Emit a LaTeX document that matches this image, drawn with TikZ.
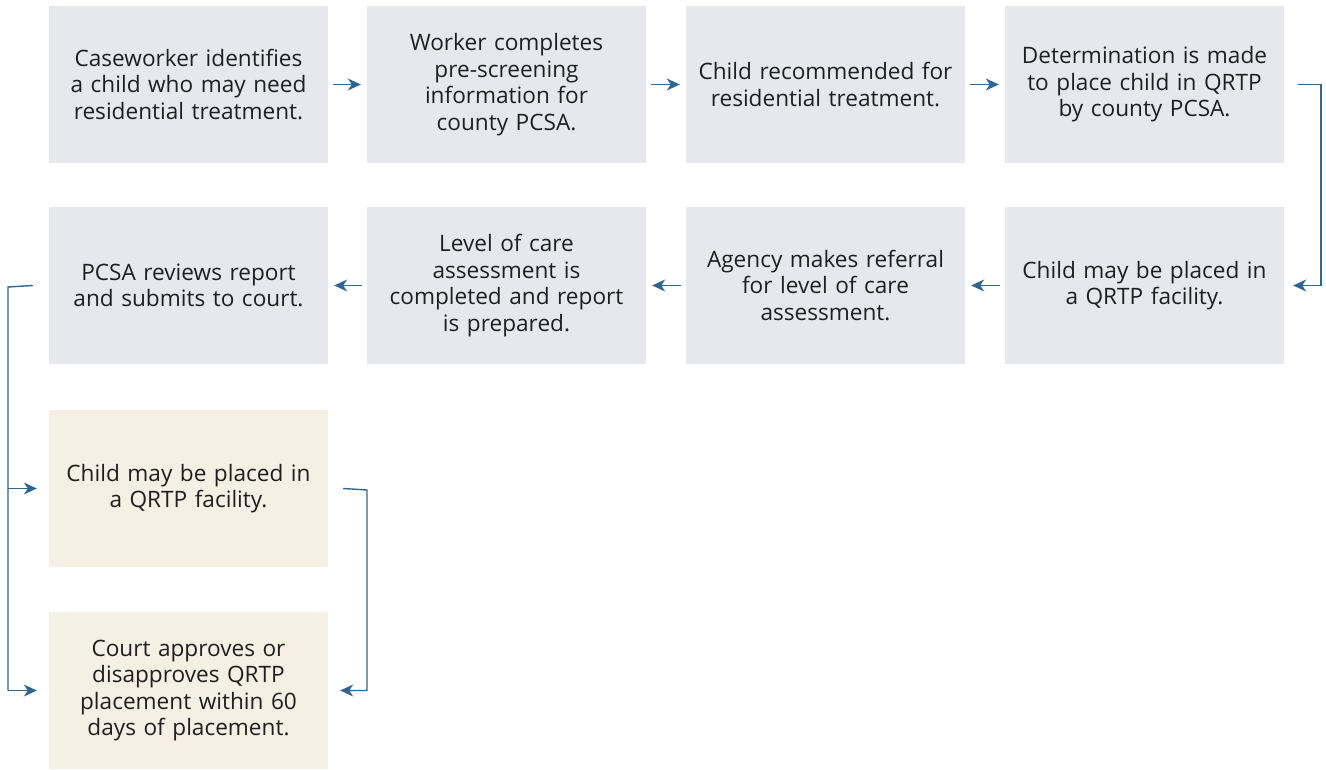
\documentclass[tikz,border=0pt]{standalone}
\usepackage{fontspec}
\setmainfont{Open Sans}
\usetikzlibrary{arrows.meta}
\definecolor{boxgray}{HTML}{E6E8EE}
\definecolor{boxbeige}{HTML}{F6EFE4}
\definecolor{arrowblue}{HTML}{2F6592}
\begin{document}
\begin{tikzpicture}[x=1pt,y=-1pt,
  stepbox/.style={fill=boxgray,draw=none,minimum width=279pt,minimum height=157pt,
    text width=275pt,align=center,inner sep=0pt,font=\fontsize{22.6}{26.6}\selectfont,text=black!88},
  beigebox/.style={stepbox,fill=boxbeige},
  conn/.style={draw=arrowblue,line width=1.4pt,-{Stealth[length=13pt,width=12pt,inset=4pt]}},
  bracket/.style={draw=arrowblue,line width=1.4pt}]
\useasboundingbox (0,0) rectangle (1326,770);
\node[stepbox] (a1) at (188.5,84.5) {Caseworker identifies\\a child who may need\\residential treatment.};
\node[stepbox] (a2) at (506.5,84.5) {Worker completes\\pre-screening\\information for\\county PCSA.};
\node[stepbox] (a3) at (825.5,84.5) {Child recommended for\\residential treatment.};
\node[stepbox] (a4) at (1144.5,84.5) {Determination is made\\to place child in QRTP\\by county PCSA.};
\node[stepbox] (b4) at (1144.5,285.5) {Child may be placed in\\a QRTP facility.};
\node[stepbox] (b3) at (825.5,285.5) {Agency makes referral\\for level of care\\assessment.};
\node[stepbox] (b2) at (506.5,285.5) {Level of care\\assessment is\\completed and report\\is prepared.};
\node[stepbox] (b1) at (188.5,285.5) {PCSA reviews report\\and submits to court.};
\node[beigebox] (c1) at (188.5,488.5) {Child may be placed in\\a QRTP facility.};
\node[beigebox] (d1) at (188.5,690.5) {Court approves or\\disapproves QRTP\\placement within 60\\days of placement.};
% row 1 arrows
\draw[conn] ([xshift=5pt]a1.east) -- ([xshift=-6pt]a2.west);
\draw[conn] ([xshift=5pt]a2.east) -- ([xshift=-6pt]a3.west);
\draw[conn] ([xshift=5pt]a3.east) -- ([xshift=-6pt]a4.west);
% row 2 arrows
\draw[conn] ([xshift=-5pt]b2.west) -- ([xshift=6pt]b1.east);
\draw[conn] ([xshift=-5pt]b3.west) -- ([xshift=6pt]b2.east);
\draw[conn] ([xshift=-5pt]b4.west) -- ([xshift=6pt]b3.east);
% right bracket
\coordinate (r1) at (1321,84.5);
\coordinate (r2) at (1321,285.5);
\draw[conn] ([xshift=14pt]a4.east) -- (r1) -- (r2) -- ([xshift=9pt]b4.east);
% left bracket
\coordinate (l1) at (8,287);
\coordinate (l2) at (8,488.5);
\coordinate (l3) at (8,690.5);
\draw[bracket] ([xshift=-16pt]b1.west) -- (l1) -- (l3);
\draw[conn] (l2) -- ([xshift=-12pt]c1.west);
\draw[conn] (l3) -- ([xshift=-12pt]d1.west);
% right bracket bottom
\coordinate (m1) at (367,490);
\coordinate (m2) at (367,690.5);
\draw[conn] ([xshift=15pt]c1.east) -- (m1) -- (m2) -- ([xshift=12pt]d1.east);
\end{tikzpicture}
\end{document}
